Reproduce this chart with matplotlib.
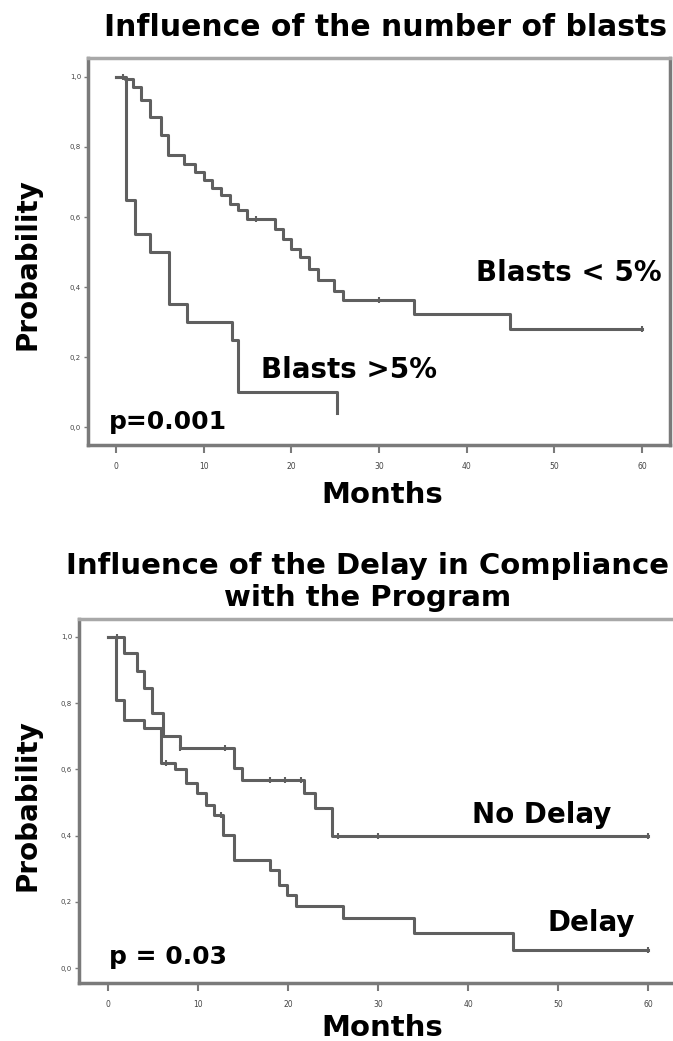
import matplotlib.pyplot as plt

# Panel 1: influence of the number of blasts (Kaplan-Meier, step "post")
blasts_low_t = [0, 1.0, 2.0, 2.9, 3.9, 5.1, 5.9, 7.8, 9.0, 10.0, 11.0, 12.0, 13.0, 13.9,
                14.9, 18.1, 19.1, 20.0, 21.0, 22.0, 23.0, 24.9, 25.9, 34.0, 45.0, 60.0]
blasts_low_p = [1.0, 0.995, 0.97, 0.935, 0.886, 0.833, 0.776, 0.752, 0.729, 0.705, 0.684,
                0.662, 0.638, 0.619, 0.595, 0.567, 0.538, 0.51, 0.486, 0.452, 0.419, 0.39,
                0.362, 0.324, 0.281, 0.281]
blasts_high_t = [0, 1.2, 2.2, 3.9, 6.1, 8.1, 13.2, 13.9, 25.2, 25.2]
blasts_high_p = [1.0, 0.648, 0.552, 0.5, 0.352, 0.3, 0.248, 0.1, 0.1, 0.04]
low_censor_t = [0.8, 16.0, 30.0, 60.0]
low_censor_p = [1.0, 0.595, 0.362, 0.281]

# Panel 2: influence of the delay in compliance with the program
nodelay_t = [0, 1.8, 3.2, 4.0, 4.9, 6.1, 8.0, 14.0, 14.9, 21.8, 23.0, 24.9, 60.0]
nodelay_p = [1.0, 0.952, 0.896, 0.846, 0.771, 0.7, 0.665, 0.604, 0.569, 0.529, 0.484,
             0.398, 0.398]
delay_t = [0, 0.9, 1.8, 4.0, 5.9, 7.5, 8.7, 9.9, 10.9, 11.8, 12.8, 14.0, 18.0, 19.0,
           19.9, 20.9, 26.1, 34.0, 45.0, 60.0]
delay_p = [1.0, 0.81, 0.75, 0.725, 0.619, 0.6, 0.559, 0.529, 0.493, 0.463, 0.403, 0.327,
           0.297, 0.252, 0.222, 0.186, 0.151, 0.106, 0.055, 0.055]
nodelay_censor_t = [1.0, 8.0, 13.0, 18.0, 19.7, 21.4, 25.5, 30.0, 60.0]
nodelay_censor_p = [1.0, 0.665, 0.665, 0.569, 0.569, 0.569, 0.398, 0.398, 0.398]
delay_censor_t = [6.5, 12.5, 60.0]
delay_censor_p = [0.619, 0.463, 0.055]

x_ticks = [0, 10, 20, 30, 40, 50, 60]
y_ticks = [0.0, 0.2, 0.4, 0.6, 0.8, 1.0]
y_tick_labels = ["0,0", "0,2", "0,4", "0,6", "0,8", "1,0"]

LINE = "#5f5f5f"
SPINE = "#7a7a7a"
W, H = 673, 1041

fig = plt.figure(figsize=(W / 100, H / 100), dpi=100)
fig.patch.set_facecolor("white")


def style_axes(ax, xlim, ylim):
    ax.set_xlim(*xlim)
    ax.set_ylim(*ylim)
    ax.set_xticks(x_ticks)
    ax.set_xticklabels([str(t) for t in x_ticks], fontsize=5.5, color="#444444")
    ax.set_yticks(y_ticks)
    ax.set_yticklabels(y_tick_labels, fontsize=5, color="#444444")
    ax.tick_params(axis="x", length=6, width=1.5, color=SPINE, direction="out", pad=6)
    ax.tick_params(axis="y", length=3, width=1.0, color=SPINE, direction="out", pad=2)
    for spine in ax.spines.values():
        spine.set_color(SPINE)
        spine.set_linewidth(2.5)
    ax.spines["top"].set_color("#a8a8a8")


def box(left, top, right, bottom):
    return [left / W, 1 - bottom / H, (right - left) / W, (bottom - top) / H]


# ---- top panel
ax1 = fig.add_axes(box(88, 58, 670, 445))
ax1.step(blasts_low_t, blasts_low_p, where="post", color=LINE, lw=2.2)
ax1.step(blasts_high_t, blasts_high_p, where="post", color=LINE, lw=2.2)
ax1.plot(low_censor_t, low_censor_p, ls="none", marker="|", ms=5, mew=1.5, color=LINE)
style_axes(ax1, (-3.19, 63.2), (-0.051, 1.054))
ax1.text(62.2, 0.44, "Blasts < 5%", fontsize=20, fontweight="bold", ha="right", va="center")
ax1.text(16.6, 0.163, "Blasts >5%", fontsize=20, fontweight="bold", ha="left", va="center")
ax1.text(-0.8, 0.014, "p=0.001", fontsize=18, fontweight="bold", ha="left", va="center")

fig.text(27 / W, 1 - 264 / H, "Probability", rotation=90, fontsize=20, fontweight="bold",
         ha="center", va="center")
fig.text(382 / W, 1 - 495 / H, "Months", fontsize=21, fontweight="bold", ha="center", va="center")
fig.text(386 / W, 1 - 28 / H, "Influence of the number of blasts", fontsize=21.5,
         fontweight="bold", ha="center", va="center")

# ---- bottom panel
ax2 = fig.add_axes(box(79, 619, 676, 983))
ax2.step(nodelay_t, nodelay_p, where="post", color=LINE, lw=2.2)
ax2.step(delay_t, delay_p, where="post", color=LINE, lw=2.2)
ax2.plot(nodelay_censor_t, nodelay_censor_p, ls="none", marker="|", ms=5, mew=1.5, color=LINE)
ax2.plot(delay_censor_t, delay_censor_p, ls="none", marker="|", ms=5, mew=1.5, color=LINE)
style_axes(ax2, (-3.22, 63.1), (-0.045, 1.054))
ax2.text(40.4, 0.462, "No Delay", fontsize=20, fontweight="bold", ha="left", va="center")
ax2.text(48.8, 0.136, "Delay", fontsize=20, fontweight="bold", ha="left", va="center")
ax2.text(0.1, 0.033, "p = 0.03", fontsize=18, fontweight="bold", ha="left", va="center")

fig.text(27 / W, 1 - 805 / H, "Probability", rotation=90, fontsize=20, fontweight="bold",
         ha="center", va="center")
fig.text(382 / W, 1 - 1028 / H, "Months", fontsize=21, fontweight="bold", ha="center", va="center")
fig.text(368 / W, 1 - 582 / H, "Influence of the Delay in Compliance\nwith the Program",
         fontsize=21, fontweight="bold", ha="center", va="center", linespacing=1.15)

fig.savefig("out.png", dpi=100, facecolor="white")
